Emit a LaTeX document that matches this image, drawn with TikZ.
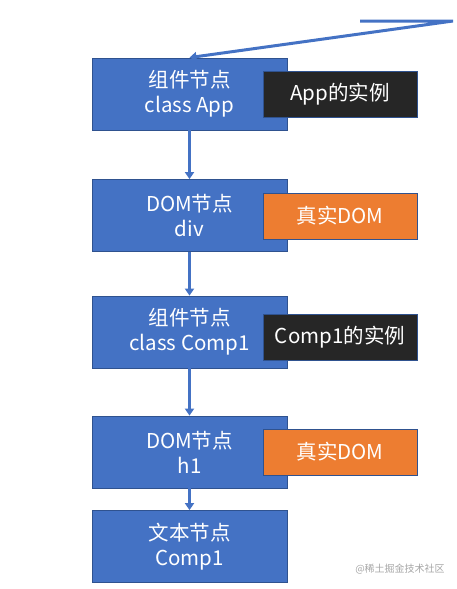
\documentclass[tikz,border=0pt]{standalone}
\usepackage{fontspec}
\setmainfont{Noto Sans CJK SC}
\usetikzlibrary{arrows.meta,positioning}
\definecolor{boxblue}{RGB}{68,114,196}
\definecolor{boxedge}{RGB}{47,82,143}
\definecolor{boxorange}{RGB}{237,125,49}
\definecolor{boxblack}{RGB}{38,38,38}

\begin{document}
\begin{tikzpicture}[x=1pt, y=-1pt,
    treenode/.style={draw=boxedge, fill=boxblue, line width=0.8pt, text=white,
      minimum width=195pt, minimum height=72pt, align=center,
      font=\fontsize{20.5}{25}\selectfont},
    instbox/.style={draw=boxedge, fill=boxblack, line width=0.8pt, text=white,
      minimum width=154pt, minimum height=46pt,
      font=\fontsize{20.5}{23}\selectfont},
    realbox/.style={instbox, fill=boxorange},
    link/.style={-{Triangle[width=9pt,length=7pt]}, line width=2.6pt, boxblue}]
    \useasboundingbox (0,0) rectangle (457,589);

    % Tree nodes
    \node[treenode] (app) at (189.5,94) {组件节点\\class App};
    \node[treenode] (div) at (189.5,215.5) {DOM节点\\div};
    \node[treenode] (comp) at (189.5,332) {组件节点\\class Comp1};
    \node[treenode] (hone) at (189.5,452) {DOM节点\\h1};
    \node[treenode] (text) at (189.5,546.5) {文本节点\\Comp1};

    % What each node holds
    \node[instbox] (appinst) at (340,94) {App的实例};
    \node[realbox] (divdom) at (340,216) {真实DOM};
    \node[instbox] (compinst) at (340,337) {Comp1的实例};
    \node[realbox] (honedom) at (340,452) {真实DOM};

    % Links down the tree
    \draw[link] (app) -- (div);
    \draw[link] (div) -- (comp);
    \draw[link] (comp) -- (hone);
    \draw[link] (hone) -- (text);

    % Incoming line at the top
    \coordinate (inL) at (360,21);
    \coordinate (inR) at (453,21);
    \draw[link, line width=3pt] (inL) -- (inR) -- (app.north);

    % Watermark
    \node[text=black!35, font=\fontsize{10}{12}\selectfont] (mark) at (400,569) {@稀土掘金技术社区};
\end{tikzpicture}
\end{document}
